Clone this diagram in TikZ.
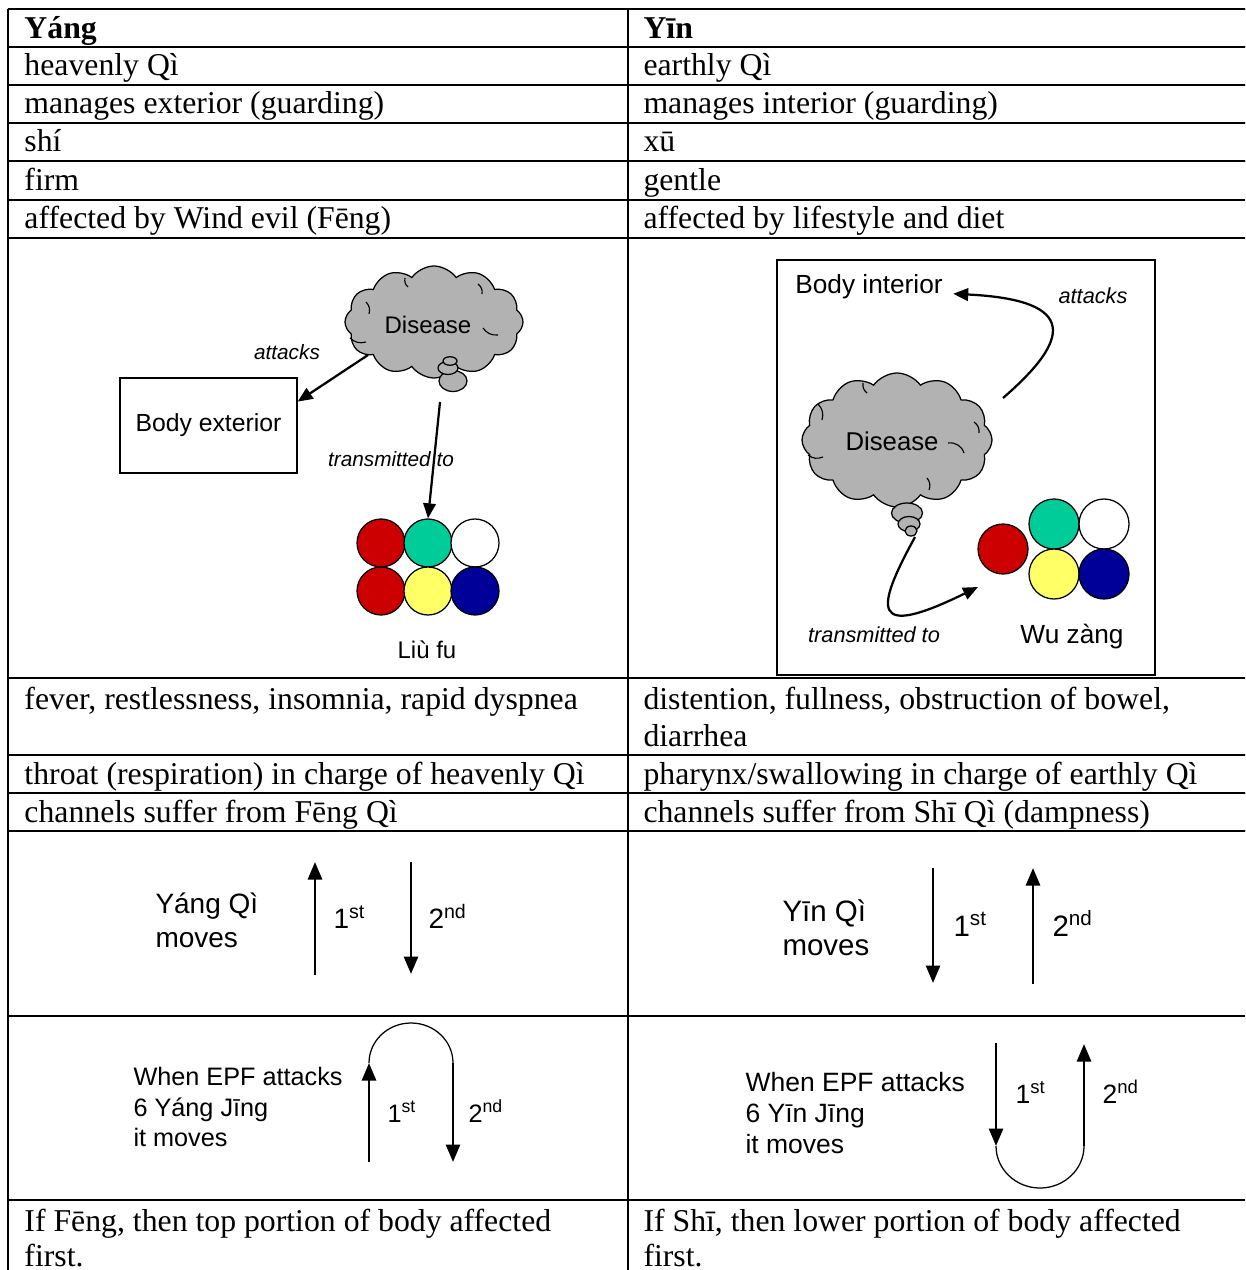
\documentclass[tikz,border=0pt]{standalone}
\usepackage{fontspec}
\setmainfont{Liberation Serif}
\newfontfamily\arialf{Liberation Sans}
\usetikzlibrary{arrows.meta,shapes.symbols,shapes.geometric}
\definecolor{cloudgray}{RGB}{178,178,178}
\definecolor{bred}{RGB}{204,0,0}
\definecolor{bgreen}{RGB}{0,204,153}
\definecolor{byellow}{RGB}{255,255,102}
\definecolor{bnavy}{RGB}{0,0,153}
\begin{document}
\begin{tikzpicture}[x=0.4pt,y=-0.4pt,
  tline/.style={line width=0.8pt},
  cell/.style={anchor=base west,inner sep=0pt,font=\fontsize{12.7pt}{14.8pt}\selectfont},
  lab/.style={inner sep=0pt,font=\arialf\fontsize{#1pt}{14pt}\selectfont},
  ilab/.style={inner sep=0pt,font=\arialf\itshape\fontsize{#1pt}{12pt}\selectfont},
  cloudy/.style={cloud, cloud puffs=12, cloud puff arc=110, cloud ignores aspect,
    draw, fill=cloudgray, line width=0.5pt, inner sep=0pt},
  bub/.style={ellipse, draw, fill=cloudgray, line width=0.5pt, inner sep=0pt},
  ball/.style={circle, draw, line width=0.5pt, inner sep=0pt, minimum size=#1},
  arr/.style={line width=0.9pt, -{Triangle[length=6pt,width=5pt]}},
  bigarr/.style={line width=1.1pt, -{Triangle[length=7pt,width=5.6pt]}},
  thinarc/.style={line width=0.5pt},
  crease/.style={line width=0.45pt}]
\useasboundingbox (0,0) rectangle (1245,1270);
\clip (0,0) rectangle (1245,1270);
\fill[white] (0,0) rectangle (1245,1270);

% table rules
\foreach \yy in {9,47.5,85.5,123.5,161.5,200,238.5,678,755,793,831,1016,1200}
  \draw[tline] (7.6,\yy) -- (1260,\yy);
\draw[tline] (8,8.6) -- (8,1290);
\draw[tline] (628,8.6) -- (628,1290);

% table texts
\node[cell] (h1) at (24,39) {\textbf{Yáng}};
\node[cell] (h2) at (643,39) {\textbf{Yīn}};
\node[cell] (t1a) at (24,76) {heavenly Qì};
\node[cell] (t1b) at (643,76) {earthly Qì};
\node[cell] (t2a) at (24,114) {manages exterior (guarding)};
\node[cell] (t2b) at (643,114) {manages interior (guarding)};
\node[cell] (t3a) at (24,152) {shí};
\node[cell] (t3b) at (643,152) {xū};
\node[cell] (t4a) at (24,191) {firm};
\node[cell] (t4b) at (643,191) {gentle};
\node[cell] (t5a) at (24,229) {affected by Wind evil (Fēng)};
\node[cell] (t5b) at (643,229) {affected by lifestyle and diet};
\node[cell] (t7a) at (24,709) {fever, restlessness, insomnia, rapid dyspnea};
\node[cell] (t7b) at (643,709) {distention, fullness, obstruction of bowel,};
\node[cell] (t7c) at (643,746) {diarrhea};
\node[cell] (t8a) at (24,784) {throat (respiration) in charge of heavenly Qì};
\node[cell] (t8b) at (643,784) {pharynx/swallowing in charge of earthly Qì};
\node[cell] (t9a) at (24,822) {channels suffer from Fēng Qì};
\node[cell] (t9b) at (643,822) {channels suffer from Shī Qì (dampness)};
\node[cell] (t12a) at (24,1231) {If Fēng, then top portion of body affected};
\node[cell] (t12c) at (24,1266) {first.};
\node[cell] (t12b) at (643,1231) {If Shī, then lower portion of body affected};
\node[cell] (t12d) at (643,1266) {first.};

% ---- left diagram ----
\node[draw, line width=0.5pt, lab=9.9, minimum width=70.8pt, minimum height=38pt] (bext) at (208.5,425.5) {Body exterior};
\node[cloudy, minimum width=71.2pt, minimum height=44.8pt] (lcloud) at (434,322) {};
\draw[crease] (350,338) to[bend right=30] (366,342);
\draw[crease] (366,302) to[bend left=30] (369,314);
\draw[crease] (405,278) to[bend right=30] (408,287);
\draw[crease] (478,284) to[bend left=30] (482,294);
\draw[crease] (483,328) to[bend right=30] (498,335);
\node[lab=9.6] (ldis) at (428,325) {Disease};
\node[bub, minimum width=11.2pt, minimum height=8.4pt] (lb1) at (453,381) {};
\node[bub, minimum width=8pt, minimum height=5.2pt] (lb2) at (448,368) {};
\node[bub, minimum width=5.6pt, minimum height=3.4pt] (lb3) at (450,361) {};
\coordinate (la1) at (368,355);
\draw[arr] (la1) -- (bext.15);
\node[ilab=8.3] (latt) at (287,352) {attacks};
\node[ball=19.2pt, fill=bred] (l1) at (381,543) {};
\node[ball=19.2pt, fill=bgreen] (lg) at (428,543) {};
\node[ball=19.2pt, fill=white] (l3) at (475,543) {};
\node[ball=19.2pt, fill=bred] (l4) at (381,591) {};
\node[ball=19.2pt, fill=byellow] (l5) at (428,591) {};
\node[ball=19.2pt, fill=bnavy] (l6) at (475,591) {};
\coordinate (lt1) at (440,402);
\draw[arr] (lt1) -- (lg.north);
\node[ilab=8.3] (ltr) at (391,459) {transmitted to};
\node[lab=9.6] (liufu) at (427,650) {Liù fu};

% ---- right diagram ----
\node[draw, line width=0.5pt, minimum width=151.2pt, minimum height=166pt, inner sep=0pt] (rbox) at (966,467.5) {};
\node[lab=10.5, inner sep=4pt] (bint) at (869,287) {Body interior};
\coordinate (ra1) at (1003,398);
\draw[arr] (ra1) .. controls (1070,340) and (1080,300) .. (bint.base east);
\node[ilab=8.7] (ratt) at (1093,296) {attacks};
\node[cloudy, minimum width=76pt, minimum height=53.6pt] (rcloud) at (897,440) {};
\draw[crease] (818,404) to[bend left=30] (822,420);
\draw[crease] (808,455) to[bend right=30] (823,457);
\draw[crease] (863,383) to[bend right=30] (867,393);
\draw[crease] (974,422) to[bend left=30] (979,433);
\draw[crease] (948,443) to[bend left=40] (964,453);
\draw[crease] (927,478) to[bend left=30] (929,490);
\node[lab=10.3] (rdis) at (892,441) {Disease};
\node[bub, minimum width=12.4pt, minimum height=8pt] (rb1) at (907,513) {};
\node[bub, minimum width=8.8pt, minimum height=6pt] (rb2) at (909,524) {};
\node[bub, minimum width=4.8pt, minimum height=4pt] (rb3) at (911,531) {};
\node[ball=20pt, fill=bred] (rr) at (1003,549) {};
\node[ball=20pt, fill=bgreen] (rg) at (1054,524) {};
\node[ball=20pt, fill=white] (rw) at (1104,524) {};
\node[ball=20pt, fill=byellow] (ry) at (1054,574) {};
\node[ball=20pt, fill=bnavy] (rn) at (1104,574) {};
\coordinate (rt1) at (915,537);
\coordinate (rt2) at (978,587);
\draw[arr] (rt1) .. controls (875,610) and (870,640) .. (rt2);
\node[ilab=8.7] (rtr) at (874,635) {transmitted to};
\node[lab=10.5] (wuz) at (1072,637) {Wu zàng};

% ---- Yang Qi moves ----
\node[lab=11.2, anchor=base west] (yq1) at (155,913) {Yáng Qì};
\node[lab=11.2, anchor=base west] (yq2) at (155,947) {moves};
\coordinate (ua1) at (315,975); \coordinate (ua2) at (315,862);
\draw[bigarr] (ua1) -- (ua2);
\coordinate (da1) at (411,862); \coordinate (da2) at (411,974);
\draw[bigarr] (da1) -- (da2);
\node[lab=11.2, anchor=base west] (f1) at (333,928) {1\textsuperscript{st}};
\node[lab=11.2, anchor=base west] (s1) at (428,928) {2\textsuperscript{nd}};

% ---- Yin Qi moves ----
\node[lab=11.8, anchor=base west] (yi1) at (782,921) {Yīn Qì};
\node[lab=11.8, anchor=base west] (yi2) at (782,955) {moves};
\coordinate (ub1) at (933,868); \coordinate (ub2) at (933,983);
\draw[bigarr] (ub1) -- (ub2);
\coordinate (db1) at (1033,984); \coordinate (db2) at (1033,868);
\draw[bigarr] (db1) -- (db2);
\node[lab=11.8, anchor=base west] (f2) at (953,936) {1\textsuperscript{st}};
\node[lab=11.8, anchor=base west] (s2) at (1052,936) {2\textsuperscript{nd}};

% ---- EPF Yang ----
\node[lab=10.1, anchor=base west] (e1) at (133,1085) {When EPF attacks};
\node[lab=10.1, anchor=base west] (e2) at (133,1116) {6 Yáng Jīng};
\node[lab=10.1, anchor=base west] (e3) at (133,1146) {it moves};
\coordinate (uc1) at (369,1162); \coordinate (uc2) at (369,1063);
\draw[bigarr] (uc1) -- (uc2);
\draw[thinarc] (uc2) arc[start angle=180, end angle=360, x radius=42, y radius=40] coordinate (uc3);
\coordinate (dc2) at (453,1162);
\draw[bigarr] (uc3) -- (dc2);
\node[lab=10.1, anchor=base west] (f3) at (387,1122) {1\textsuperscript{st}};
\node[lab=10.1, anchor=base west] (s3) at (468,1122) {2\textsuperscript{nd}};

% ---- EPF Yin ----
\node[lab=10.6, anchor=base west] (g1) at (745,1091) {When EPF attacks};
\node[lab=10.6, anchor=base west] (g2) at (745,1122) {6 Yīn Jīng};
\node[lab=10.6, anchor=base west] (g3) at (745,1153) {it moves};
\coordinate (ud1) at (996,1043); \coordinate (ud2) at (996,1146);
\draw[bigarr] (ud1) -- (ud2);
\draw[thinarc] (ud2) arc[start angle=180, end angle=0, x radius=44, y radius=42] coordinate (ud3);
\coordinate (ud4) at (1084,1044);
\draw[bigarr] (ud3) -- (ud4);
\node[lab=10.6, anchor=base west] (f4) at (1015,1103) {1\textsuperscript{st}};
\node[lab=10.6, anchor=base west] (s4) at (1102,1103) {2\textsuperscript{nd}};
\end{tikzpicture}
\end{document}
